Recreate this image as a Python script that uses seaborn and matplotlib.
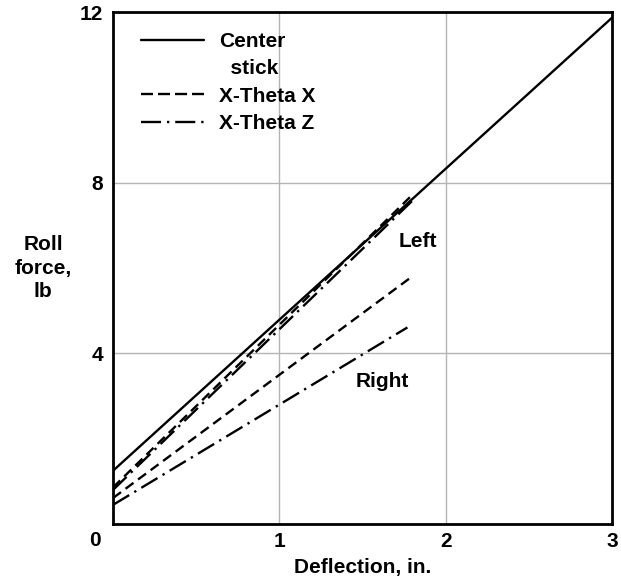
import matplotlib
matplotlib.use("Agg")
import matplotlib.pyplot as plt
from matplotlib.lines import Line2D
import seaborn as sns
import pandas as pd

# ---- data ----
center_x = [0.0, 3.0]
center_y = [1.25, 11.87]

xtx_left_x = [0.0, 1.80]
xtx_left_y = [0.86, 7.72]
xtx_right_x = [0.0, 1.79]
xtx_right_y = [0.61, 5.78]

xtz_left_x = [0.0, 1.80]
xtz_left_y = [0.80, 7.58]
xtz_right_x = [0.0, 1.77]
xtz_right_y = [0.45, 4.61]

configs = ["Center stick", "X-Theta X", "X-Theta Z"]
legend_labels = ["Center", "  stick", "X-Theta X", "X-Theta Z"]
x_ticks = [0, 1, 2, 3]
x_ticklabels = ["", "1", "2", "3"]
y_ticks = [0, 4, 8, 12]
y_ticklabels = ["", "4", "8", "12"]

rows = []
for cfg, side, xs, ys in [
    ("Center stick", "both", center_x, center_y),
    ("X-Theta X", "left", xtx_left_x, xtx_left_y),
    ("X-Theta X", "right", xtx_right_x, xtx_right_y),
    ("X-Theta Z", "left", xtz_left_x, xtz_left_y),
    ("X-Theta Z", "right", xtz_right_x, xtz_right_y),
]:
    for xv, yv in zip(xs, ys):
        rows.append({"config": cfg, "side": side, "x": xv, "y": yv})
df = pd.DataFrame(rows)

sns.set_style("white")
plt.rcParams["font.family"] = ["Liberation Sans", "DejaVu Sans"]
plt.rcParams["font.weight"] = "bold"
plt.rcParams["text.color"] = "black"
plt.rcParams["axes.labelcolor"] = "black"
plt.rcParams["xtick.color"] = "black"
plt.rcParams["ytick.color"] = "black"

FS = 15
LW = 1.7
dash_map = {
    "Center stick": "",
    "X-Theta X": (4.2, 2.4),
    "X-Theta Z": (8.0, 2.5, 1.0, 2.5),
}

fig = plt.figure(figsize=(6.21, 5.81), dpi=100)
ax = fig.add_axes([0.182, 0.098, 0.8035, 0.881])

sns.lineplot(data=df, x="x", y="y", style="config", units="side",
             estimator=None, dashes=dash_map, color="black", linewidth=LW,
             legend=False, ax=ax, sort=False)

ax.set_xlim(0, 3)
ax.set_ylim(0, 12)
ax.set_xticks(x_ticks)
ax.set_xticklabels(x_ticklabels)
ax.set_yticks(y_ticks)
ax.set_yticklabels(y_ticklabels)
ax.tick_params(length=0, labelsize=FS)
ax.tick_params(axis="x", pad=6)
ax.tick_params(axis="y", pad=7)
for lab in ax.get_xticklabels() + ax.get_yticklabels():
    lab.set_fontweight("bold")
ax.grid(True, color="#b4b4b4", linewidth=1.0)
ax.set_axisbelow(True)
for sp in ax.spines.values():
    sp.set_visible(True)
    sp.set_color("black")
    sp.set_linewidth(2.0)

ax.set_xlabel("Deflection, in.", fontsize=FS, fontweight="bold", labelpad=5)
ax.set_ylabel("")
ax.text(-0.14, 0.50, "Roll\nforce,\nlb", transform=ax.transAxes,
        ha="center", va="center", multialignment="center",
        fontsize=FS, fontweight="bold", linespacing=1.28)
ax.text(-0.036, -0.032, "0", transform=ax.transAxes, ha="center",
        va="center", fontsize=FS, fontweight="bold")

ax.text(1.83, 6.63, "Left", ha="center", va="center",
        fontsize=FS, fontweight="bold")
ax.text(1.62, 3.35, "Right", ha="center", va="center",
        fontsize=FS, fontweight="bold")

handles = [
    Line2D([], [], color="black", linewidth=LW, linestyle="-"),
    Line2D([], [], color="none", linewidth=0),
    Line2D([], [], color="black", linewidth=LW, dashes=(5.1, 2.1)),
    Line2D([], [], color="black", linewidth=LW, dashes=(8.5, 2.5, 1.0, 2.5)),
]
leg = ax.legend(handles, legend_labels, loc="upper left",
                bbox_to_anchor=(0.019, 0.998), frameon=False,
                prop={"size": FS, "weight": "bold"},
                handlelength=3.0, handletextpad=0.72, labelspacing=0.4)

fig.savefig("out.png", dpi=100)
